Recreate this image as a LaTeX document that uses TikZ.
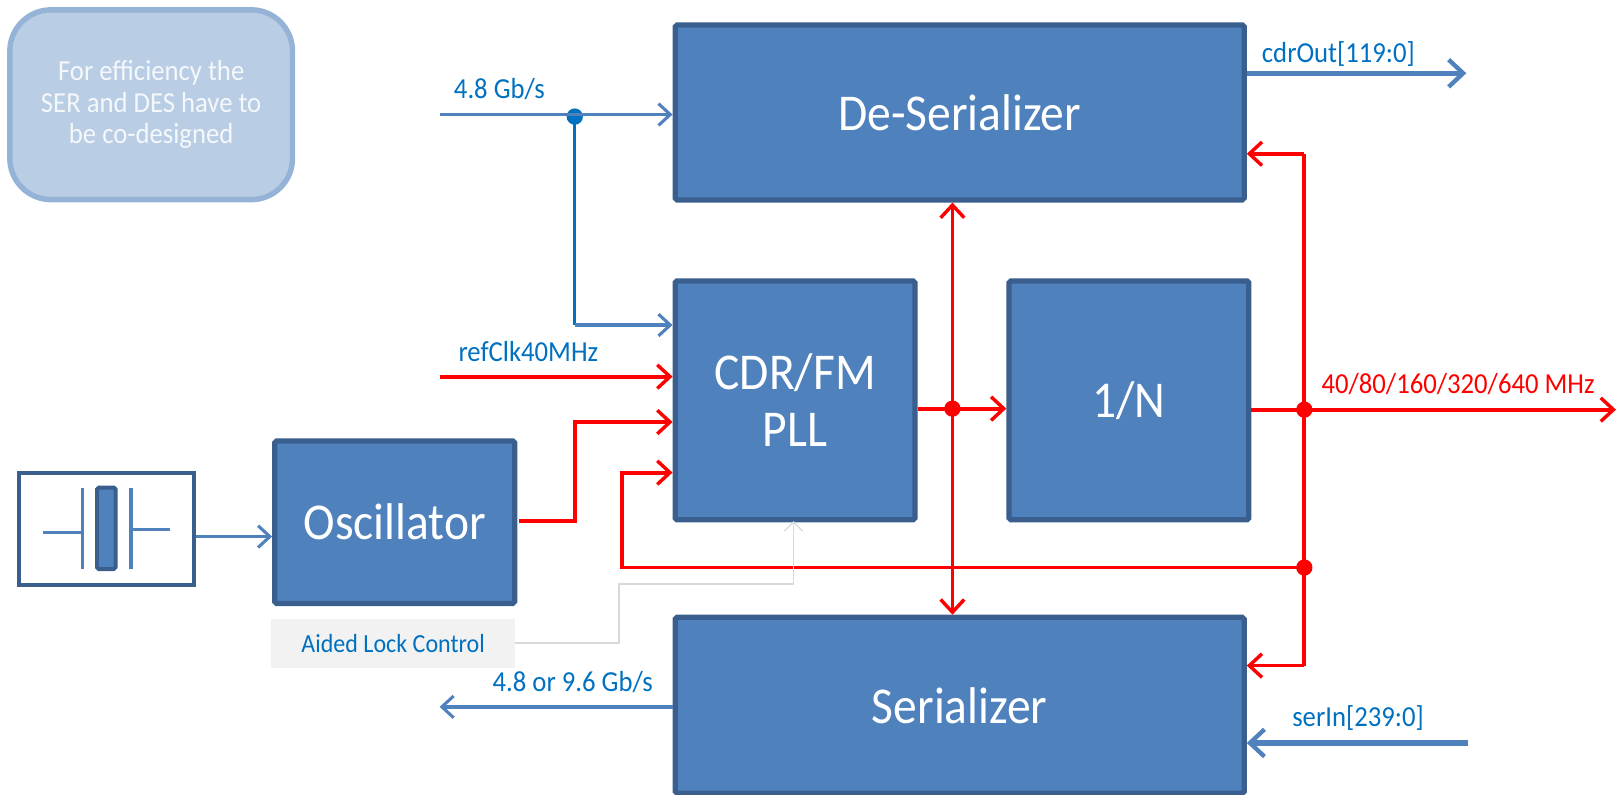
\documentclass[tikz,border=0pt]{standalone}
\usepackage{fontspec}
\setmainfont[FakeStretch=0.92]{Carlito}
\usepackage{tikz}
\usetikzlibrary{arrows.meta}
\definecolor{bleuBloc}{HTML}{4F81BD}
\definecolor{bordBloc}{HTML}{3A5F8F}
\definecolor{bleuTexte}{HTML}{0070C0}
\definecolor{noteFond}{HTML}{B9CDE5}
\definecolor{noteBord}{HTML}{95B3D7}
\definecolor{grisAide}{HTML}{D9D9D9}

\begin{document}
\begin{tikzpicture}[x=0.02cm,y=-0.02cm]
% style des noeuds
\tikzstyle{bloc} = [rectangle, draw=bordBloc, fill=bleuBloc, line width=2.9pt, rounded corners=1pt, text=white, font=\fontsize{28.5}{31.5}\selectfont, align=center, inner sep=0pt]
\tikzstyle{etiquette} = [inner sep=0pt, text=bleuTexte, font=\fontsize{16}{19}\selectfont]
\tikzstyle{point} = [circle, inner sep=0pt, minimum size=9pt]
% style des flèches
\tikzstyle{signal} = [-{Straight Barb[length=6.5pt,width=12pt,line width=1.7pt]}, draw=bleuBloc, line width=1.9pt]
\tikzstyle{bus} = [-{Straight Barb[length=8pt,width=15pt,line width=2.4pt]}, draw=bleuBloc, line width=2.8pt]
\tikzstyle{horloge} = [-{Straight Barb[length=7pt,width=13pt,line width=1.9pt]}, draw=red, line width=2.1pt]

\useasboundingbox (0,0) rectangle (1568,770);

%% placement des noeuds
\node[bloc, minimum width=11.03cm, minimum height=3.39cm] (deser) at (930,109) {De-Serializer};
\node[bloc, minimum width=4.65cm, minimum height=4.63cm] (cdr) at (770.5,388) {CDR/FM\\PLL};
\node[bloc, minimum width=4.65cm, minimum height=4.63cm] (diviseur) at (1094,388) {1/N};
\node[bloc, minimum width=4.65cm, minimum height=3.15cm] (oscillateur) at (382.5,506) {Oscillator};
\node[bloc, minimum width=11.03cm, minimum height=3.41cm] (ser) at (930,683.5) {Serializer};
\node[rectangle, draw=bordBloc, fill=white, line width=2.4pt, minimum width=3.39cm, minimum height=2.17cm] (quartzBoite) at (103,512.5) {};
\node[rectangle, rounded corners=0.8cm, draw=noteBord, fill=noteFond, line width=3pt, minimum width=5.48cm, minimum height=3.68cm, text=white!85!noteFond, align=center, font=\fontsize{16}{17.3}\selectfont] (note) at (146.5,101.5) {For efficiency the\\SER and DES have to\\be co-designed};
\node[rectangle, fill=black!5, text=bleuTexte, minimum width=4.72cm, minimum height=0.94cm, font=\fontsize{14.4}{17}\selectfont] (aide) at (381,623.5) {Aided Lock Control};

%% quartz
\node[rectangle, draw=bordBloc, fill=bleuBloc, line width=2.2pt, rounded corners=1pt, minimum width=0.36cm, minimum height=1.58cm, inner sep=0pt] (cristal) at (103,512) {};
\draw[draw=bleuBloc, line width=1.9pt] (42,516) -- (80,516) (80,473) -- (80,551);
\draw[draw=bleuBloc, line width=1.9pt] (165,513) -- (127,513) (127,473) -- (127,551);

%% étiquettes
\node[etiquette] (lblData) at (484,86) {4.8 Gb/s};
\node[etiquette] (lblRef) at (512,341) {refClk40MHz};
\node[etiquette] (lblOut) at (1297,52) {cdrOut[119:0]};
\node[etiquette, text=red] (lblFreq) at (1413,372) {40/80/160/320/640 MHz};
\node[etiquette] (lblIn) at (1316,696) {serIn[239:0]};
\node[etiquette] (lblSer) at (555,661) {4.8 or 9.6 Gb/s};

%% points de jonction
\node[point, fill=bleuTexte] (ptData) at (557,113) {};
\node[point, fill=red] (ptCdr) at (923,396) {};
\node[point, fill=red] (ptDiv) at (1264,397) {};
\node[point, fill=red] (ptRetour) at (1264,550) {};

%% extrémités libres
\coordinate (inData) at (426,111);
\coordinate (inRef) at (426,365);
\coordinate (outSer) at (426,685);
\coordinate (outDes) at (1421,71);
\coordinate (inSer) at (1423,720);
\coordinate (outFreq) at (1566,397);
\coordinate (hautDiv) at (1264,149);
\coordinate (basDiv) at (1264,645);
\coordinate (sortieOsc) at (503,505);
\coordinate (coudeOsc) at (557,409);
\coordinate (coudeRetour) at (603,458);
\coordinate (coudeAide) at (600,566);
\coordinate (finAide) at (769,505);

%% placement des flèches
\draw[signal] (inData) -- (inData -| deser.west);
\draw[draw=bleuTexte, line width=1.9pt] (ptData.center) -- (557,315);
\draw[signal] (557,315) -- (cdr.west |- 0,315);
\draw[horloge] (inRef) -- (inRef -| cdr.west);
\draw[horloge] (sortieOsc) -| (coudeOsc) -- (coudeOsc -| cdr.west);
\draw[horloge] (ptRetour.center) -| (coudeRetour) -- (coudeRetour -| cdr.west);
\draw[horloge] (cdr.east |- ptCdr) -- (diviseur.west |- ptCdr);
\draw[horloge, {Straight Barb[length=7pt,width=13pt,line width=1.9pt]}-{Straight Barb[length=7pt,width=13pt,line width=1.9pt]}] (ptCdr |- deser.south) -- (ptCdr |- ser.north);
\draw[horloge] (diviseur.east |- ptDiv) -- (outFreq);
\draw[draw=red, line width=2.1pt] (hautDiv) -- (basDiv);
\draw[horloge] (hautDiv) -- (hautDiv -| deser.east);
\draw[horloge] (basDiv) -- (basDiv -| ser.east);
\draw[bus] (outDes -| deser.east) -- (outDes);
\draw[bus] (inSer) -- (inSer -| ser.east);
\draw[signal] (outSer -| ser.west) -- (outSer);
\draw[signal] (quartzBoite.east |- 0,520) -- (oscillateur.west |- 0,520);
\draw[-{Straight Barb[length=5pt,width=10pt,line width=0.7pt]}, draw=grisAide, line width=1pt] (aide.east) -| (coudeAide) -| (finAide);
\end{tikzpicture}
\end{document}
